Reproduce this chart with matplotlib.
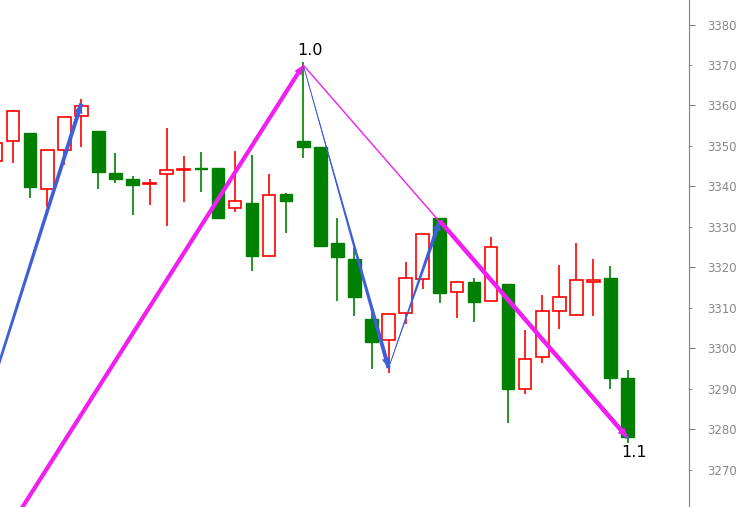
import matplotlib
matplotlib.use("Agg")
import matplotlib.pyplot as plt
from matplotlib.patches import Rectangle, FancyArrowPatch
from matplotlib.ticker import FixedLocator, FormatStrFormatter
import numpy as np

# candle data (red = up, green = down)
opens = [3346.3, 3351.2, 3353.2, 3339.4, 3349.0, 3357.4, 3353.7, 3343.3, 3341.9, 3340.5,
         3343.1, 3344.0, 3344.5, 3344.6, 3334.7, 3335.9, 3322.8, 3338.1, 3351.2, 3349.8,
         3326.0, 3322.1, 3307.3, 3302.1, 3308.8, 3317.2, 3332.2, 3314.0, 3316.4, 3311.7,
         3315.9, 3290.0, 3297.9, 3309.3, 3308.3, 3316.5, 3317.4, 3292.7]
highs = [3351.0, 3359.0, 3353.2, 3349.0, 3357.2, 3361.6, 3353.7, 3348.3, 3342.6, 3341.8,
         3354.4, 3347.5, 3348.5, 3344.6, 3348.8, 3347.8, 3343.1, 3338.4, 3370.8, 3349.8,
         3332.2, 3324.8, 3309.0, 3308.5, 3321.4, 3328.3, 3332.2, 3316.4, 3317.4, 3327.5,
         3315.9, 3304.6, 3313.2, 3320.6, 3326.0, 3322.1, 3320.4, 3294.7]
lows = [3346.0, 3345.8, 3337.2, 3334.9, 3345.3, 3349.8, 3339.4, 3340.9, 3333.0, 3335.4,
        3330.2, 3336.2, 3338.6, 3332.0, 3333.7, 3319.1, 3322.8, 3328.5, 3347.0, 3325.3,
        3311.7, 3308.0, 3294.9, 3294.0, 3306.0, 3314.7, 3311.2, 3307.5, 3306.5, 3311.7,
        3281.6, 3288.8, 3296.4, 3304.9, 3308.0, 3308.0, 3290.0, 3276.7]
closes = [3350.7, 3358.6, 3339.9, 3349.0, 3357.2, 3359.9, 3343.6, 3341.9, 3340.4, 3340.8,
          3344.1, 3344.3, 3344.2, 3332.2, 3336.4, 3322.8, 3337.9, 3336.4, 3349.8, 3325.3,
          3322.6, 3312.7, 3301.6, 3308.5, 3317.4, 3328.3, 3313.7, 3316.4, 3311.5, 3325.1,
          3290.0, 3297.4, 3309.3, 3312.7, 3316.9, 3316.8, 3292.7, 3278.1]

# zigzag wave points (bar index, price)
blue_idx = [-8, 5]
blue_px = [3187.5, 3360.5]
blue2_idx = [18, 23, 26, 37]
blue2_px = [3370.0, 3295.2, 3331.5, 3278.0]
mag_up_idx = [-4, 18]
mag_up_px = [3224.0, 3370.0]
mag_dn_idx = [26, 37]
mag_dn_px = [3331.5, 3278.0]
labels = ["1.0", "1.1"]

RED = "#ff0000"
GREEN = "#008000"
BLUE = "#3f5fd9"
MAG = "#f01ef0"

fig = plt.figure(figsize=(7.39, 5.07), dpi=100)
ax = fig.add_axes([0, 0, 689 / 739, 1])

w = 0.74
for i in range(len(opens)):
    o, h, l, c = opens[i], highs[i], lows[i], closes[i]
    up = c >= o
    col = RED if up else GREEN
    ax.vlines(i, l, h, color=col, lw=1.2, zorder=2)
    lo, hi = min(o, c), max(o, c)
    if up:
        r = Rectangle((i - w / 2, lo), w, max(hi - lo, 0.3), facecolor="white",
                      edgecolor=col, lw=1.2, zorder=3)
    else:
        r = Rectangle((i - w / 2, lo), w, max(hi - lo, 0.3), facecolor=col,
                      edgecolor=col, lw=1.0, zorder=3)
    ax.add_patch(r)

def patch(p0, p1, style, color, z):
    a = FancyArrowPatch(p0, p1, arrowstyle=style, color=color, shrinkA=0, shrinkB=0,
                        mutation_scale=1, zorder=z, lw=0)
    ax.add_patch(a)

def tapered(x0, y0, x1, y1, color, width, z):
    # wedge drawn backwards: thin at the start, full width at the head
    ax.plot([x0, x1], [y0, y1], color=color, lw=0.7, zorder=z)
    patch((x1, y1), (x0, y0), "wedge,tail_width=%g,shrink_factor=0.5" % width, color, z)
    patch((x0, y0), (x1, y1), "simple,head_length=7,head_width=6,tail_width=0.1", color, z)

# blue wave arrows
tapered(blue_idx[0], blue_px[0], blue_idx[1], blue_px[1], BLUE, 3.0, 5)
for k in range(len(blue2_idx) - 1):
    tapered(blue2_idx[k], blue2_px[k], blue2_idx[k + 1], blue2_px[k + 1], BLUE, 3.0, 5)

# magenta wave
patch((mag_up_idx[0], mag_up_px[0]), (mag_up_idx[1], mag_up_px[1]),
      "simple,head_length=7,head_width=6,tail_width=3.0", MAG, 6)
ax.plot([mag_up_idx[1], mag_dn_idx[1]], [mag_up_px[1], mag_dn_px[1]],
        color=MAG, lw=1.0, zorder=6)
patch((mag_dn_idx[0], mag_dn_px[0]), (mag_dn_idx[1], mag_dn_px[1]),
      "simple,head_length=7,head_width=6,tail_width=3.2", MAG, 6)

ax.annotate(labels[0], (mag_up_idx[1], mag_up_px[1]), xytext=(5, 5),
            textcoords="offset points", ha="center", va="bottom", fontsize=11.5)
ax.annotate(labels[1], (mag_dn_idx[1], mag_dn_px[1]), xytext=(5, -5),
            textcoords="offset points", ha="center", va="top", fontsize=11.5)

ax.set_xlim(0.234, 40.6)
ax.set_ylim(3260.86, 3386.05)

for s in ["left", "top", "bottom"]:
    ax.spines[s].set_visible(False)
ax.spines["right"].set_color("#808080")
ax.set_xticks([])
ax.yaxis.tick_right()
ax.yaxis.set_major_locator(FixedLocator(np.arange(3280, 3381, 20)))
ax.yaxis.set_minor_locator(FixedLocator(np.arange(3270, 3381, 20)))
ax.yaxis.set_minor_formatter(FormatStrFormatter("%d"))
ax.tick_params(axis="y", which="major", length=4.3, pad=8.6, colors="#808080",
               labelsize=8.5, labelcolor="#888888")
ax.tick_params(axis="y", which="minor", length=2.2, pad=10.8, colors="#808080",
               labelsize=8.5, labelcolor="#888888", right=True, labelright=True)

fig.savefig("out.png", dpi=100)
